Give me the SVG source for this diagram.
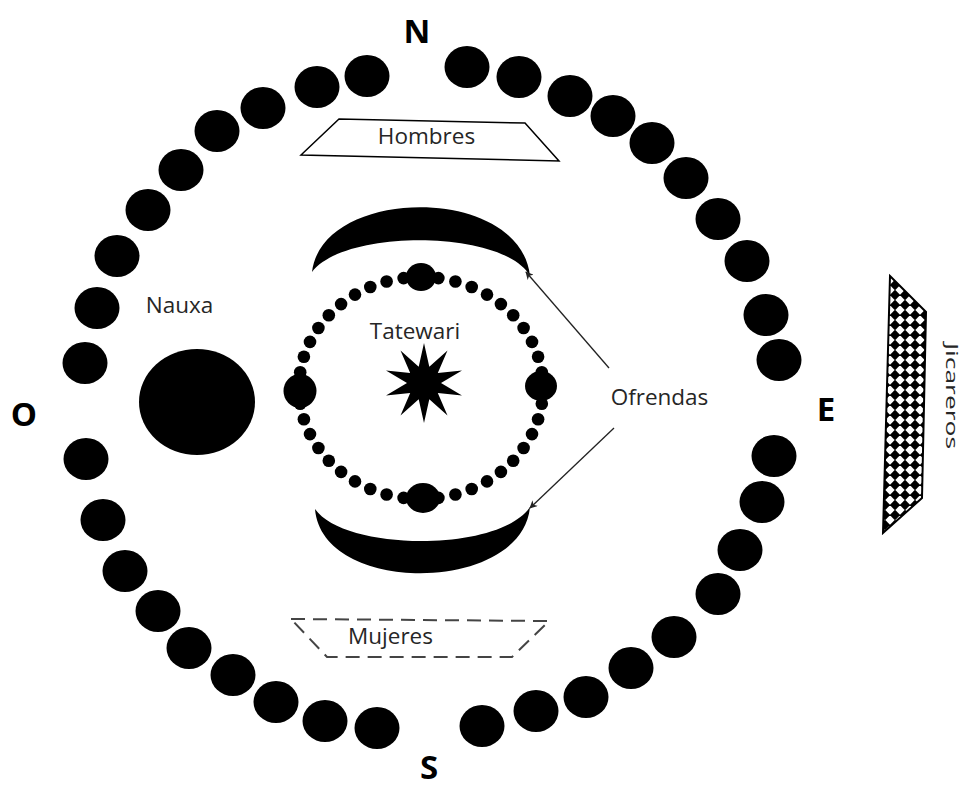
<svg xmlns="http://www.w3.org/2000/svg" width="965" height="790" viewBox="0 0 965 790">
<style>
.seat{fill:#000}
.dot{fill:#000}
.lbl{font-family:"Open Sans","Liberation Sans",sans-serif;font-size:22.5px;fill:#262626}
.dir{font-family:"Open Sans","Liberation Sans",sans-serif;font-size:33px;font-weight:bold;fill:#000;text-anchor:middle}
.conn{stroke:#222;stroke-width:1.3;fill:none;marker-end:url(#ah)}
</style>
<defs>
<marker id="ah" viewBox="0 0 10 10" refX="9" refY="5" markerWidth="9" markerHeight="8" orient="auto" markerUnits="userSpaceOnUse">
<path d="M0,0 L10,5 L0,10 L3,5 z" fill="#222"/>
</marker>
<pattern id="chk" width="10" height="10" patternUnits="userSpaceOnUse">
<rect width="10" height="10" fill="#fff"/>
<polygon points="5,-0.3 10.3,5 5,10.3 -0.3,5" fill="#000"/>
</pattern>
</defs>
<rect width="965" height="790" fill="#fff"/>

<g id="outer-ring">
<ellipse class="seat" cx="367" cy="76" rx="22.5" ry="21"/>
<ellipse class="seat" cx="317" cy="87" rx="22.5" ry="21"/>
<ellipse class="seat" cx="263" cy="108" rx="22.5" ry="21"/>
<ellipse class="seat" cx="217" cy="131" rx="22.5" ry="21"/>
<ellipse class="seat" cx="181" cy="170" rx="22.5" ry="21"/>
<ellipse class="seat" cx="148" cy="210" rx="22.5" ry="21"/>
<ellipse class="seat" cx="117" cy="256" rx="22.5" ry="21"/>
<ellipse class="seat" cx="97" cy="308" rx="22.5" ry="21"/>
<ellipse class="seat" cx="85" cy="363" rx="22.5" ry="21"/>
<ellipse class="seat" cx="86" cy="459" rx="22.5" ry="21"/>
<ellipse class="seat" cx="103" cy="520" rx="22.5" ry="21"/>
<ellipse class="seat" cx="125" cy="571" rx="22.5" ry="21"/>
<ellipse class="seat" cx="158" cy="611" rx="22.5" ry="21"/>
<ellipse class="seat" cx="189" cy="648" rx="22.5" ry="21"/>
<ellipse class="seat" cx="233" cy="675" rx="22.5" ry="21"/>
<ellipse class="seat" cx="276" cy="702" rx="22.5" ry="21"/>
<ellipse class="seat" cx="325" cy="721" rx="22.5" ry="21"/>
<ellipse class="seat" cx="377" cy="728" rx="22.5" ry="21"/>
<ellipse class="seat" cx="482" cy="726" rx="22.5" ry="21"/>
<ellipse class="seat" cx="536" cy="711" rx="22.5" ry="21"/>
<ellipse class="seat" cx="586" cy="697" rx="22.5" ry="21"/>
<ellipse class="seat" cx="631" cy="668" rx="22.5" ry="21"/>
<ellipse class="seat" cx="674" cy="637" rx="22.5" ry="21"/>
<ellipse class="seat" cx="718" cy="594" rx="22.5" ry="21"/>
<ellipse class="seat" cx="740" cy="550" rx="22.5" ry="21"/>
<ellipse class="seat" cx="762" cy="502" rx="22.5" ry="21"/>
<ellipse class="seat" cx="774" cy="456" rx="22.5" ry="21"/>
<ellipse class="seat" cx="779" cy="360" rx="22.5" ry="21"/>
<ellipse class="seat" cx="766" cy="315" rx="22.5" ry="21"/>
<ellipse class="seat" cx="747" cy="261" rx="22.5" ry="21"/>
<ellipse class="seat" cx="718" cy="219" rx="22.5" ry="21"/>
<ellipse class="seat" cx="686" cy="178" rx="22.5" ry="21"/>
<ellipse class="seat" cx="652" cy="143" rx="22.5" ry="21"/>
<ellipse class="seat" cx="613" cy="116" rx="22.5" ry="21"/>
<ellipse class="seat" cx="570" cy="96" rx="22.5" ry="21"/>
<ellipse class="seat" cx="519" cy="77" rx="22.5" ry="21"/>
<ellipse class="seat" cx="467" cy="67" rx="22.5" ry="21"/>
</g>

<g id="directions">
<text class="dir" x="417" y="43">N</text>
<text class="dir" x="24" y="426">O</text>
<text class="dir" x="826" y="421">E</text>
<text class="dir" x="429" y="779">S</text>
</g>

<g id="hombres">
<polygon points="339,119 525,123 559,161 301,155" fill="#fff" stroke="#000" stroke-width="1.5"/>
<text class="lbl" x="426.5" y="144" text-anchor="middle">Hombres</text>
</g>

<g id="mujeres">
<polygon points="291,619 549,621 512,657 327,657" fill="none" stroke="#444" stroke-width="2" stroke-dasharray="14,8"/>
<text class="lbl" x="390.5" y="644" text-anchor="middle">Mujeres</text>
</g>

<g id="jicareros">
<polygon points="890,276 926,312 922,498 883,533" fill="url(#chk)" stroke="#000" stroke-width="2"/>
<text class="lbl" transform="translate(946,343) rotate(90)" x="0" y="0" style="font-size:17px" textLength="106" lengthAdjust="spacingAndGlyphs">Jicareros</text>
</g>

<g id="nauxa">
<ellipse cx="197" cy="402" rx="58" ry="53" fill="#000"/>
<text class="lbl" x="179.5" y="312.5" text-anchor="middle">Nauxa</text>
</g>

<g id="ofrenda-top">
<path d="M312,272 C322,186 520,184 530,276 C505,230 345,228 312,272 Z" fill="#000"/>
</g>
<g id="ofrenda-bottom">
<path d="M315,509 C322,596 522,594 530,507 C500,552 345,552 315,509 Z" fill="#000"/>
</g>

<g id="inner-ring">
<ellipse class="dot" cx="421" cy="277" rx="15" ry="14"/>
<ellipse class="dot" cx="423" cy="498" rx="17" ry="15"/>
<ellipse class="dot" cx="300" cy="391" rx="16.5" ry="17"/>
<ellipse class="dot" cx="541" cy="386" rx="16" ry="15"/>
<circle class="dot" cx="541.8" cy="403.8" r="6.3"/>
<circle class="dot" cx="538.1" cy="419.3" r="6.3"/>
<circle class="dot" cx="532.0" cy="434.1" r="6.3"/>
<circle class="dot" cx="523.6" cy="448.0" r="6.3"/>
<circle class="dot" cx="513.2" cy="460.7" r="6.3"/>
<circle class="dot" cx="500.9" cy="471.9" r="6.3"/>
<circle class="dot" cx="487.0" cy="481.4" r="6.3"/>
<circle class="dot" cx="471.7" cy="489.0" r="6.3"/>
<circle class="dot" cx="455.4" cy="494.5" r="6.3"/>
<circle class="dot" cx="438.4" cy="497.9" r="6.3"/>
<circle class="dot" cx="403.6" cy="497.9" r="6.3"/>
<circle class="dot" cx="386.6" cy="494.5" r="6.3"/>
<circle class="dot" cx="370.3" cy="489.0" r="6.3"/>
<circle class="dot" cx="355.0" cy="481.4" r="6.3"/>
<circle class="dot" cx="341.1" cy="471.9" r="6.3"/>
<circle class="dot" cx="328.8" cy="460.7" r="6.3"/>
<circle class="dot" cx="318.4" cy="448.0" r="6.3"/>
<circle class="dot" cx="310.0" cy="434.1" r="6.3"/>
<circle class="dot" cx="303.9" cy="419.3" r="6.3"/>
<circle class="dot" cx="300.2" cy="403.8" r="6.3"/>
<circle class="dot" cx="300.2" cy="372.2" r="6.3"/>
<circle class="dot" cx="303.9" cy="356.7" r="6.3"/>
<circle class="dot" cx="310.0" cy="341.9" r="6.3"/>
<circle class="dot" cx="318.4" cy="328.0" r="6.3"/>
<circle class="dot" cx="328.8" cy="315.3" r="6.3"/>
<circle class="dot" cx="341.1" cy="304.1" r="6.3"/>
<circle class="dot" cx="355.0" cy="294.6" r="6.3"/>
<circle class="dot" cx="370.3" cy="287.0" r="6.3"/>
<circle class="dot" cx="386.6" cy="281.5" r="6.3"/>
<circle class="dot" cx="403.6" cy="278.1" r="6.3"/>
<circle class="dot" cx="438.4" cy="278.1" r="6.3"/>
<circle class="dot" cx="455.4" cy="281.5" r="6.3"/>
<circle class="dot" cx="471.7" cy="287.0" r="6.3"/>
<circle class="dot" cx="487.0" cy="294.6" r="6.3"/>
<circle class="dot" cx="500.9" cy="304.1" r="6.3"/>
<circle class="dot" cx="513.2" cy="315.3" r="6.3"/>
<circle class="dot" cx="523.6" cy="328.0" r="6.3"/>
<circle class="dot" cx="532.0" cy="341.9" r="6.3"/>
<circle class="dot" cx="538.1" cy="356.7" r="6.3"/>
<circle class="dot" cx="541.8" cy="372.2" r="6.3"/>
</g>

<g id="tatewari">
<polygon points="424,343 429.3,366.8 447.5,350.6 437.8,373 462,370.6 441,383 462,395.4 437.8,393 447.5,415.4 429.3,399.2 424,423 418.7,399.2 400.5,415.4 410.2,393 386,395.4 407,383 386,370.6 410.2,373 400.5,350.6 418.7,366.8" fill="#000"/>
<text class="lbl" x="415" y="339" text-anchor="middle">Tatewari</text>
</g>

<g id="ofrendas-label">
<text class="lbl" x="659.5" y="405" text-anchor="middle">Ofrendas</text>
</g>

<g id="connectors">
<line class="conn" x1="609" y1="368" x2="526" y2="272"/>
<line class="conn" x1="614" y1="428" x2="530" y2="508"/>
</g>
</svg>
